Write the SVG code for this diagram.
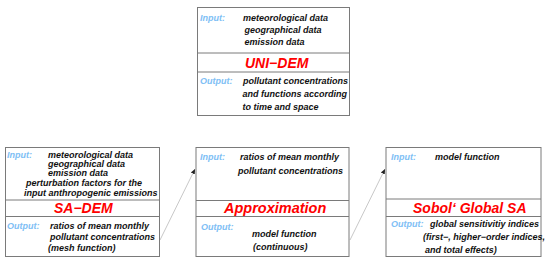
<svg xmlns="http://www.w3.org/2000/svg" width="550" height="264" viewBox="0 0 550 264">
<style>
.box{fill:#fff;stroke:#7a7a7a;stroke-width:1}
.div{stroke:#7a7a7a;stroke-width:1}
text{font-family:"Liberation Sans",Arial,sans-serif;font-style:italic;font-weight:bold}
.t{font-size:9px;fill:#111}
.l{font-size:9px;fill:#80c0f5}
.h{font-size:14px;fill:#ff0000}
.c{stroke:#c8c8c8;stroke-width:1;fill:none}
</style>
<defs>
<marker id="ah" markerWidth="6" markerHeight="6" refX="5" refY="3" orient="auto" markerUnits="userSpaceOnUse">
<path d="M0,0.8 L5,3 L0,5.2 Z" fill="#222"/>
</marker>
</defs>
<rect width="550" height="264" fill="#fff"/>
<g id="connectors">
<line class="c" x1="160" y1="240" x2="195" y2="169" marker-end="url(#ah)"/>
<line class="c" x1="350" y1="240" x2="385" y2="169" marker-end="url(#ah)"/>
</g>
<g id="uni-dem">
<rect class="box" x="197.5" y="7.5" width="152" height="108"/>
<line class="div" x1="197.5" y1="53" x2="349.5" y2="53"/>
<line class="div" x1="197.5" y1="72" x2="349.5" y2="72"/>
<text class="l" x="200" y="21">Input:</text>
<text class="t" x="243" y="21">meteorological data</text>
<text class="t" x="244.5" y="32.5">geographical data</text>
<text class="t" x="244.5" y="44.5">emission data</text>
<text class="h" x="245" y="67.5">UNI−DEM</text>
<text class="l" x="200" y="84">Output:</text>
<text class="t" x="243" y="84">pollutant concentrations</text>
<text class="t" x="242.5" y="96.5">and functions according</text>
<text class="t" x="242.5" y="110">to time and space</text>
</g>
<g id="sa-dem">
<rect class="box" x="5.5" y="147.5" width="154" height="109"/>
<line class="div" x1="5.5" y1="200" x2="159.5" y2="200"/>
<line class="div" x1="5.5" y1="216.5" x2="159.5" y2="216.5"/>
<text class="l" x="7" y="157.5">Input:</text>
<text class="t" x="48" y="157.5">meteorological data</text>
<text class="t" x="48" y="167">geographical data</text>
<text class="t" x="48" y="176">emission data</text>
<text class="t" x="26" y="185.5">perturbation factors for the</text>
<text class="t" x="24" y="196">input anthropogenic emissions</text>
<text class="h" x="54" y="213">SA−DEM</text>
<text class="l" x="7" y="229">Output:</text>
<text class="t" x="50" y="229">ratios of mean monthly</text>
<text class="t" x="50" y="240">pollutant concentrations</text>
<text class="t" x="48" y="251">(mesh function)</text>
</g>
<g id="approximation">
<rect class="box" x="196" y="147.5" width="153" height="109"/>
<line class="div" x1="196" y1="200.5" x2="349" y2="200.5"/>
<line class="div" x1="196" y1="216.5" x2="349" y2="216.5"/>
<text class="l" x="200" y="160">Input:</text>
<text class="t" x="240" y="160">ratios of mean monthly</text>
<text class="t" x="238" y="174">pollutant concentrations</text>
<text class="h" x="224" y="213" style="font-size:14.5px">Approximation</text>
<text class="l" x="201" y="230">Output:</text>
<text class="t" x="252" y="237">model function</text>
<text class="t" x="253" y="250">(continuous)</text>
</g>
<g id="sobol">
<rect class="box" x="386" y="147.5" width="155" height="109"/>
<line class="div" x1="386" y1="199" x2="541" y2="199"/>
<line class="div" x1="386" y1="216.5" x2="541" y2="216.5"/>
<text class="l" x="391" y="160">Input:</text>
<text class="t" x="435" y="160">model function</text>
<text class="h" x="413" y="213">Sobol‘ Global SA</text>
<text class="l" x="391" y="227">Output:</text>
<text class="t" x="430" y="227">global sensitivitiy indices</text>
<text class="t" x="423" y="240">(first−, higher−order indices,</text>
<text class="t" x="425" y="253">and total effects)</text>
</g>
</svg>
